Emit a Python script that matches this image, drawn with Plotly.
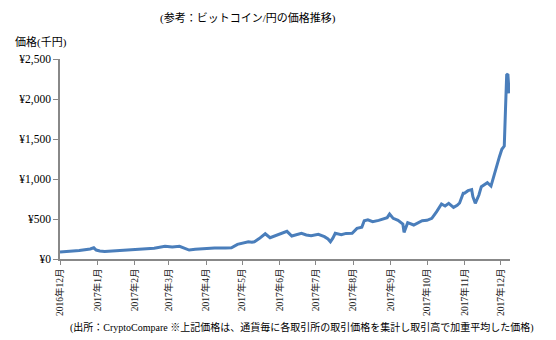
import plotly.graph_objects as go

dates = [
    "2016-12-01", "2016-12-09", "2016-12-17", "2016-12-26", "2016-12-29", "2016-12-31",
    "2017-01-03", "2017-01-07", "2017-01-15", "2017-01-24", "2017-01-30",
    "2017-02-09", "2017-02-17", "2017-02-26", "2017-03-04", "2017-03-10", "2017-03-14",
    "2017-03-18", "2017-03-23", "2017-04-02", "2017-04-08", "2017-04-17", "2017-04-22",
    "2017-04-27", "2017-05-01", "2017-05-06", "2017-05-09", "2017-05-11", "2017-05-15",
    "2017-05-20", "2017-05-24", "2017-05-28", "2017-06-02", "2017-06-07", "2017-06-11",
    "2017-06-14", "2017-06-19", "2017-06-23", "2017-06-27", "2017-07-03", "2017-07-08",
    "2017-07-11", "2017-07-13", "2017-07-15", "2017-07-17", "2017-07-22", "2017-07-26",
    "2017-07-31", "2017-08-04", "2017-08-08", "2017-08-10", "2017-08-13", "2017-08-17",
    "2017-08-22", "2017-08-25", "2017-08-29", "2017-08-31", "2017-09-03", "2017-09-07",
    "2017-09-11", "2017-09-12", "2017-09-14", "2017-09-15", "2017-09-20", "2017-09-23",
    "2017-09-27", "2017-10-01", "2017-10-05", "2017-10-09", "2017-10-13", "2017-10-16",
    "2017-10-19", "2017-10-23", "2017-10-26", "2017-10-28", "2017-10-31", "2017-11-01",
    "2017-11-04", "2017-11-07", "2017-11-08", "2017-11-10", "2017-11-13", "2017-11-15",
    "2017-11-20", "2017-11-23", "2017-11-26", "2017-11-28", "2017-11-30", "2017-12-02",
    "2017-12-04", "2017-12-05", "2017-12-06", "2017-12-07", "2017-12-08",
]
prices = [
    88, 92, 105, 125, 140, 112,
    100, 95, 102, 106, 112,
    120, 135, 160, 150, 158, 135,
    112, 122, 133, 138, 137, 140,
    183, 195, 216, 210, 216, 255,
    316, 266, 290, 320, 346, 287,
    300, 321, 300, 291, 308, 279,
    250, 216, 260, 321, 304, 320,
    321, 383, 396, 479, 490, 467,
    483, 495, 517, 562, 508, 483,
    437, 333, 420, 454, 425, 450,
    479, 483, 508, 592, 687, 662,
    696, 646, 671, 700, 821, 821,
    854, 867, 779, 696, 800, 904,
    954, 912, 1071, 1196, 1279, 1371,
    1412, 1862, 2300, 2312, 2071,
]

tick_dates = ["2016-12-01", "2017-01-01", "2017-02-01", "2017-03-01", "2017-04-01",
              "2017-05-01", "2017-06-01", "2017-07-01", "2017-08-01", "2017-09-01",
              "2017-10-01", "2017-11-01", "2017-12-01"]
tick_labels = ["2016年12月", "2017年1月", "2017年2月", "2017年3月", "2017年4月",
               "2017年5月", "2017年6月", "2017年7月", "2017年8月", "2017年9月",
               "2017年10月", "2017年11月", "2017年12月"]
y_ticks = [0, 500, 1000, 1500, 2000, 2500]
y_tick_labels = ["¥0", "¥500", "¥1,000", "¥1,500", "¥2,000", "¥2,500"]

title_text = "(参考：ビットコイン/円の価格推移)"
y_title = "価格(千円)"
note_text = "(出所：CryptoCompare ※上記価格は、通貨毎に各取引所の取引価格を集計し取引高で加重平均した価格)"

FONT = "Liberation Serif, Noto Sans CJK JP, serif"

W, H = 556, 340
l, r, t, b = 60, 46, 59, 81
pw, ph = W - l - r, H - t - b


def px_to_paper(px_x, px_y):
    return (px_x - l) / pw, (H - b - px_y) / ph


fig = go.Figure()
fig.add_trace(go.Scatter(
    x=dates, y=prices, mode="lines",
    line=dict(color="#4A7EBB", width=3),
    showlegend=False, hoverinfo="skip",
))

ann = []
for text, px_x, px_y, anchor, size in [
    (title_text, 248, 18, "center", 11),
    (y_title, 13, 42, "left", 11),
    (note_text, 536, 327, "right", 10),
]:
    x, y = px_to_paper(px_x, px_y)
    ann.append(dict(text=text, x=x, y=y, xref="paper", yref="paper",
                    xanchor=anchor, yanchor="middle", showarrow=False,
                    font=dict(size=size, family=FONT, color="#000000")))

fig.update_layout(
    width=W, height=H,
    margin=dict(l=l, r=r, t=t, b=b),
    paper_bgcolor="white", plot_bgcolor="white",
    font=dict(family=FONT, color="#000000", size=11),
    xaxis=dict(
        range=["2016-12-01", "2017-12-08 18:00"],
        tickmode="array", tickvals=tick_dates, ticktext=tick_labels,
        tickangle=-90, tickfont=dict(size=9.5, color="#222222"),
        showgrid=False, zeroline=False,
        showline=True, linecolor="#888888", linewidth=1.5,
        ticks="outside", ticklen=4, tickcolor="#888888", tickwidth=1,
    ),
    yaxis=dict(
        range=[0, 2500],
        tickmode="array", tickvals=y_ticks, ticktext=y_tick_labels,
        tickfont=dict(size=11.5, color="#000000"),
        showgrid=False, zeroline=False,
        showline=True, linecolor="#888888", linewidth=1.5,
        ticks="outside", ticklen=5, tickcolor="#888888", tickwidth=1,
    ),
    annotations=ann,
)

fig.write_html("out.html")
